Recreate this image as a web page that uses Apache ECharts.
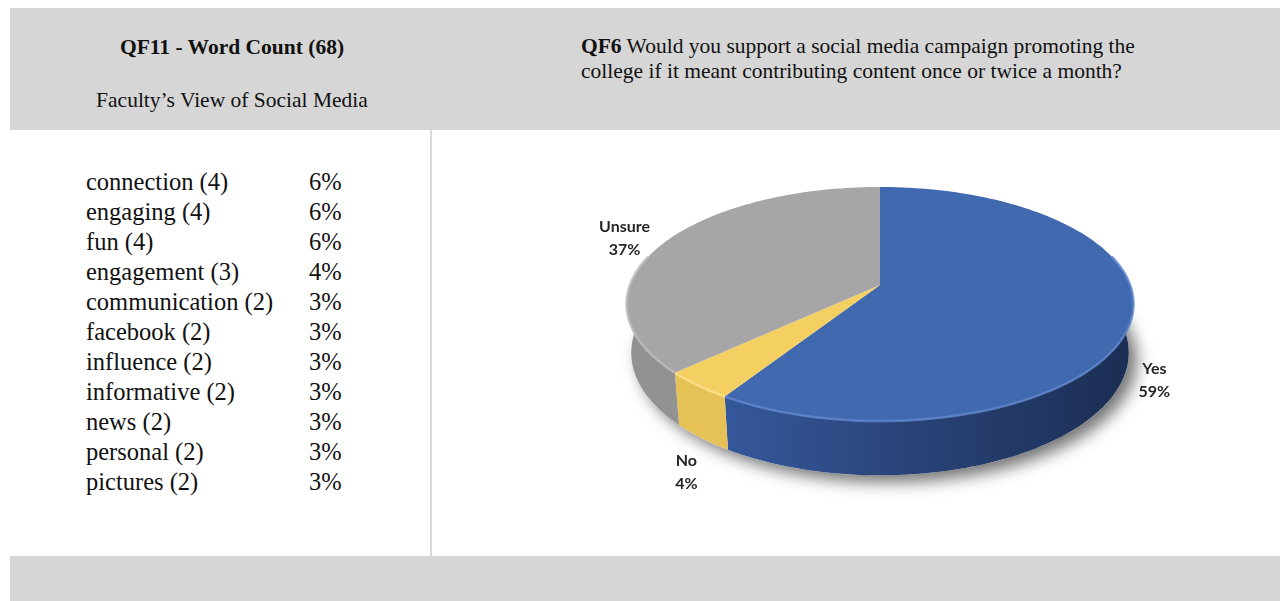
<!DOCTYPE html>
<html>
<head>
<meta charset="utf-8">
<script src="https://cdn.jsdelivr.net/npm/echarts@6/dist/echarts.min.js"></script>
<style>
html, body { margin: 0; padding: 0; background: #fff; }
#page { position: relative; width: 1280px; height: 601px; overflow: hidden;
  font-family: "Liberation Serif", "Times New Roman", serif; color: #111; }
.band { position: absolute; left: 10px; width: 1270px; background: #d6d6d6; }
#topBand { top: 8px; height: 122px; }
#bottomBand { top: 556px; height: 45px; }
#divider { position: absolute; left: 430px; top: 130px; width: 2px; height: 426px; background: #d9d9d9; }
#chart { position: absolute; left: 0; top: 0; width: 1280px; height: 601px; }
.head { position: absolute; white-space: nowrap; }
#leftTitle { left: 10px; width: 444px; top: 35px; text-align: center; font-size: 21.5px; line-height: 24px; font-weight: bold; }
#leftSub { left: 10px; width: 444px; top: 88px; text-align: center; font-size: 21.5px; line-height: 24px; }
#rightTitle { left: 581px; top: 34px; font-size: 21.5px; line-height: 25px; }
.row { position: absolute; font-size: 24.5px; line-height: 30px; white-space: nowrap; }
</style>
</head>
<body>
<div id="page">
  <div class="band" id="topBand"></div>
  <div class="band" id="bottomBand"></div>
  <div id="divider"></div>
  <div class="head" id="leftTitle">QF11 - Word Count (68)</div>
  <div class="head" id="leftSub">Faculty’s View of Social Media</div>
  <div class="head" id="rightTitle"><b>QF6</b> Would you support a social media campaign promoting the<br>college if it meant contributing content once or twice a month?</div>
  <div id="words"></div>
  <div id="chart"></div>
</div>
<script>
// word count table (left panel)
var words = ['connection', 'engaging', 'fun', 'engagement', 'communication', 'facebook',
  'influence', 'informative', 'news', 'personal', 'pictures'];
var wordCounts = [4, 4, 4, 3, 2, 2, 2, 2, 2, 2, 2];
var wordPercents = [6, 6, 6, 4, 3, 3, 3, 3, 3, 3, 3];

// QF6 pie
var pieLabels = ['Yes', 'No', 'Unsure'];
var pieValues = [59, 4, 37];

var wordsBox = document.getElementById('words');
words.forEach(function (w, i) {
  var top = 167 + i * 30;
  var a = document.createElement('div');
  a.className = 'row';
  a.style.left = '86px';
  a.style.top = top + 'px';
  a.textContent = w + ' (' + wordCounts[i] + ')';
  var b = document.createElement('div');
  b.className = 'row';
  b.style.left = '309px';
  b.style.top = top + 'px';
  b.textContent = wordPercents[i] + '%';
  wordsBox.appendChild(a);
  wordsBox.appendChild(b);
});

// simple perspective camera for the 3D pie
var CX = 880, CY = 285, F = 1370, D = 5.478, SE = 0.4556, CE = 0.890, H = 0.22;
function project(X, Z, Y) {
  var depth = D - Y * SE - Z * CE;
  return [CX + F * X / depth, CY + F * (Z * SE - Y * CE) / depth];
}
function rim(phi, Y) {
  var a = phi * Math.PI / 180;
  return project(Math.sin(a), -Math.cos(a), Y);
}
function arc(a0, a1, Y) {
  var pts = [];
  var n = Math.max(2, Math.ceil(Math.abs(a1 - a0) / 1.5));
  for (var k = 0; k <= n; k++) pts.push(rim(a0 + (a1 - a0) * k / n, Y));
  return pts;
}

var total = pieValues.reduce(function (s, v) { return s + v; }, 0);
var starts = [];
var acc = 0;
pieValues.forEach(function (v) { starts.push(acc / total * 360); acc += v; });

var topColors = ['#4169b0', '#f4cf62', '#a6a6a6'];
var rimColors = ['#5f86cc', '#fbe08f', '#bdbdbd'];
var wallColors = [
  new echarts.graphic.LinearGradient(715, 0, 1135, 0, [
    { offset: 0, color: '#35599d' },
    { offset: 0.45, color: '#2a4479' },
    { offset: 1, color: '#1b2d52' }
  ], true),
  '#e6c155',
  '#929292'
];

function slice(params, api) {
  var i = params.dataIndex;
  var a0 = starts[i];
  var a1 = a0 + api.value(0) / total * 360;
  return [a0, a1];
}

function renderWall(params, api) {
  var r = slice(params, api);
  var s = Math.max(r[0], 90), e = Math.min(r[1], 270);
  if (e <= s) return null;
  var pts = arc(s, e, 0).concat(arc(e, s, -H));
  return {
    type: 'polygon',
    shape: { points: pts },
    style: { fill: wallColors[params.dataIndex] }
  };
}

function renderTop(params, api) {
  var i = params.dataIndex;
  var r = slice(params, api);
  var pts = [project(0, 0, 0)].concat(arc(r[0], r[1], 0));
  var children = [{
    type: 'polygon',
    shape: { points: pts },
    style: { fill: topColors[i] }
  }];
  var s = Math.max(r[0], 75), e = Math.min(r[1], 285);
  if (e > s) {
    children.push({
      type: 'polyline',
      shape: { points: arc(s, e, 0) },
      style: { stroke: rimColors[i], lineWidth: 2.5, fill: null, opacity: 0.8 }
    });
  }
  // data label outside the slice
  var mid = (r[0] + r[1]) / 2;
  var ma = mid * Math.PI / 180;
  var dx = Math.sin(ma), dz = -Math.cos(ma);
  var anchor = rim(mid, dz > 0 ? -H : 0);
  var name = pieLabels[i], txt = api.value(0) + '%';
  var halfW = Math.max(name.length, txt.length) * 4.9;
  children.push({
    type: 'text',
    x: anchor[0] + dx * 14 + dx * halfW,
    y: anchor[1] + dz * 14 + dz * Math.abs(dz) * 30 + 6,
    style: {
      text: name + '\n' + txt,
      font: 'bold 16px Lato, "Open Sans", sans-serif',
      fill: '#262626',
      align: 'center',
      verticalAlign: 'middle',
      lineHeight: 23
    }
  });
  return { type: 'group', children: children };
}

function renderShadow(params, api) {
  if (params.dataIndex !== 0) return null;
  return {
    type: 'polygon',
    shape: { points: arc(0, 360, -H) },
    style: {
      fill: '#ffffff',
      shadowBlur: 16,
      shadowColor: 'rgba(0,0,0,0.55)',
      shadowOffsetX: 8,
      shadowOffsetY: 7
    }
  };
}

var chart = echarts.init(document.getElementById('chart'), null, { renderer: 'canvas' });
chart.setOption({
  animation: false,
  backgroundColor: 'transparent',
  series: [
    { type: 'custom', coordinateSystem: 'none', z: 1, silent: true, data: pieValues, renderItem: renderShadow },
    { type: 'custom', coordinateSystem: 'none', z: 2, silent: true, data: pieValues, renderItem: renderWall },
    { type: 'custom', coordinateSystem: 'none', z: 3, silent: true, data: pieValues, renderItem: renderTop }
  ]
});
</script>
</body>
</html>
